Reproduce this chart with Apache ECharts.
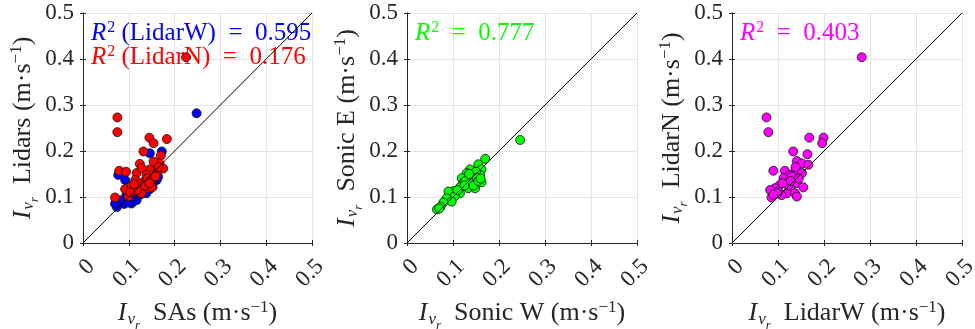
<!DOCTYPE html>
<html>
<head>
<meta charset="utf-8">
<script src="https://cdn.jsdelivr.net/npm/echarts@6/dist/echarts.min.js"></script>
<style>html,body{margin:0;padding:0;background:#fff}#c{width:975px;height:329px}</style>
</head>
<body>
<div id="c"></div>
<script>
// ---- data ----
const tickValues = [0, 0.1, 0.2, 0.3, 0.4, 0.5];
const diagonal = [[0, 0], [0.5, 0.5]];

// Panel 1: x = SAs, y = LidarW (blue) / LidarN (red)
const lidarW_vs_SAs = [
  [0.248,0.282],[0.146,0.195],[0.172,0.199],[0.077,0.148],[0.092,0.137],[0.072,0.090],[0.074,0.078],
  [0.106,0.086],[0.084,0.093],[0.161,0.137],[0.164,0.144],[0.117,0.093],[0.099,0.112],[0.146,0.117],
  [0.070,0.085],[0.110,0.100],[0.125,0.105],[0.135,0.115],[0.140,0.125],[0.150,0.130],[0.155,0.140],
  [0.130,0.120],[0.120,0.110],[0.145,0.150],[0.158,0.160],[0.105,0.095],[0.095,0.105],[0.115,0.120],
  [0.128,0.130],[0.138,0.108],[0.152,0.122],[0.160,0.155],[0.090,0.085],[0.100,0.088],[0.106,0.101]
];
const lidarN_vs_SAs = [
  [0.225,0.404],[0.075,0.273],[0.075,0.241],[0.145,0.229],[0.183,0.226],[0.154,0.217],[0.132,0.199],
  [0.170,0.190],[0.167,0.173],[0.124,0.172],[0.146,0.160],[0.175,0.162],[0.079,0.157],[0.094,0.155],
  [0.117,0.152],[0.139,0.148],[0.161,0.152],[0.114,0.137],[0.132,0.133],[0.150,0.137],[0.092,0.117],
  [0.106,0.124],[0.121,0.121],[0.139,0.119],[0.150,0.121],[0.110,0.112],[0.128,0.108],[0.099,0.101],
  [0.070,0.099],[0.128,0.163],[0.154,0.177],[0.125,0.128],[0.140,0.140],[0.118,0.115],[0.135,0.125],
  [0.145,0.130],[0.103,0.110],[0.112,0.128],[0.158,0.145],[0.165,0.165]
];
// Panel 2: x = Sonic W, y = Sonic E
const sonicE_vs_sonicW = [
  [0.246,0.224],[0.170,0.183],[0.155,0.171],[0.162,0.160],[0.137,0.160],[0.130,0.152],[0.144,0.148],
  [0.159,0.148],[0.119,0.141],[0.133,0.137],[0.148,0.137],[0.162,0.132],[0.122,0.130],[0.141,0.126],
  [0.115,0.121],[0.133,0.119],[0.148,0.119],[0.101,0.113],[0.090,0.112],[0.115,0.108],[0.104,0.102],
  [0.086,0.097],[0.097,0.090],[0.079,0.088],[0.073,0.079],[0.065,0.073],[0.140,0.145],[0.150,0.155],
  [0.127,0.135],[0.138,0.130],[0.152,0.142],[0.125,0.125],[0.110,0.115],[0.145,0.125],[0.135,0.150],
  [0.155,0.135],[0.070,0.075],[0.160,0.140]
];
// Panel 3: x = LidarW, y = LidarN
const lidarN_vs_lidarW = [
  [0.282,0.404],[0.075,0.273],[0.079,0.241],[0.168,0.229],[0.199,0.229],[0.196,0.217],[0.133,0.199],
  [0.164,0.193],[0.141,0.178],[0.152,0.173],[0.166,0.170],[0.090,0.157],[0.115,0.157],[0.139,0.159],
  [0.126,0.148],[0.152,0.152],[0.112,0.141],[0.133,0.137],[0.119,0.130],[0.141,0.130],[0.104,0.126],
  [0.155,0.121],[0.093,0.119],[0.126,0.119],[0.083,0.115],[0.101,0.112],[0.119,0.108],[0.137,0.108],
  [0.141,0.101],[0.086,0.099],[0.108,0.104],[0.130,0.145],[0.122,0.125],[0.110,0.130],[0.145,0.140],
  [0.098,0.108],[0.090,0.105],[0.138,0.165],[0.128,0.135]
];

const xNames = ['SAs', 'Sonic W', 'LidarW'];
const yNames = ['Lidars', 'Sonic E', 'LidarN'];
const r2Labels = [
  [{name: 'LidarW', value: '0.595', color: '#0000ff'}, {name: 'LidarN', value: '0.176', color: '#ff0000'}],
  [{name: null, value: '0.777', color: '#00ff00'}],
  [{name: null, value: '0.403', color: '#ff00ff'}]
];

// ---- chart ----
const FONT = 'Liberation Serif';
const TXT = '#262626';
const grids = [
  {left: 83, top: 13, width: 229, height: 230},
  {left: 407, top: 13, width: 230, height: 230},
  {left: 732, top: 13, width: 230, height: 230}
];
const NF = 26;
const nameRich = {
  i: {fontFamily: FONT, fontStyle: 'italic', fontSize: NF, color: TXT, lineHeight: 30, verticalAlign: 'middle'},
  s: {fontFamily: FONT, fontStyle: 'italic', fontSize: 17, color: TXT, lineHeight: 30, verticalAlign: 'bottom', padding: [0, 0, 1, 1]},
  ss: {fontFamily: FONT, fontStyle: 'italic', fontSize: 13, color: TXT, lineHeight: 30, verticalAlign: 'bottom', padding: [0, 0, -3, 0]},
  t: {fontFamily: FONT, fontSize: NF, color: TXT, lineHeight: 30, verticalAlign: 'middle'},
  p: {fontFamily: FONT, fontSize: 17, color: TXT, lineHeight: 30, verticalAlign: 'top', padding: [0, 0, 0, 0]}
};
function axisName(label) {
  return '{i|I}{s|v}{ss|r}{t|  ' + label + ' (m·s}{p|−1}{t|)}';
}
const common = {min: 0, max: 0.5, interval: 0.1, type: 'value'};
const lineC = {show: true, lineStyle: {color: TXT, width: 1}};
const tickC = {show: true, inside: true, length: 3, lineStyle: {color: TXT, width: 1}};

const xAxis = [], yAxis = [], series = [], title = [];
grids.forEach((g, k) => {
  xAxis.push(Object.assign({}, common, {
    gridIndex: k, position: 'bottom',
    axisLine: lineC, axisTick: tickC,
    splitLine: {show: true, lineStyle: {color: '#e4e4e4', width: 1}},
    axisLabel: {rotate: 45, align: 'right', verticalAlign: 'top', margin: 12,
      fontFamily: FONT, fontSize: 23, color: TXT,
      formatter: v => tickValues.includes(+v.toFixed(1)) ? String(+v.toFixed(1)) : ''},
    name: axisName(xNames[k]), nameLocation: 'middle', nameGap: 50,
    nameTextStyle: {rich: nameRich}
  }));
  xAxis.push(Object.assign({}, common, {
    gridIndex: k, position: 'top',
    axisLine: lineC, axisTick: tickC, axisLabel: {show: false}, splitLine: {show: false}
  }));
  yAxis.push(Object.assign({}, common, {
    gridIndex: k, position: 'left',
    axisLine: lineC, axisTick: tickC,
    splitLine: {show: true, lineStyle: {color: '#e4e4e4', width: 1}},
    axisLabel: {margin: 9, fontFamily: FONT, fontSize: 23, color: TXT},
    name: axisName(yNames[k]), nameLocation: 'middle', nameGap: 44, nameRotate: 90,
    nameTextStyle: {rich: nameRich}
  }));
  yAxis.push(Object.assign({}, common, {
    gridIndex: k, position: 'right',
    axisLine: lineC, axisTick: tickC, axisLabel: {show: false}, splitLine: {show: false}
  }));
});

const scatterStyle = (color) => ({
  type: 'scatter', symbol: 'circle', symbolSize: 9,
  itemStyle: {color: color, borderColor: '#111', borderWidth: 0.8, opacity: 1},
  emphasis: {disabled: true}
});
series.push(Object.assign(scatterStyle('#0000ff'), {xAxisIndex: 0, yAxisIndex: 0, data: lidarW_vs_SAs}));
series.push(Object.assign(scatterStyle('#ff0000'), {xAxisIndex: 0, yAxisIndex: 0, data: lidarN_vs_SAs}));
series.push(Object.assign(scatterStyle('#00ff00'), {xAxisIndex: 2, yAxisIndex: 2, data: sonicE_vs_sonicW}));
series.push(Object.assign(scatterStyle('#ff00ff'), {xAxisIndex: 4, yAxisIndex: 4, data: lidarN_vs_lidarW}));
[0, 2, 4].forEach(i => series.push({
  type: 'line', xAxisIndex: i, yAxisIndex: i, data: diagonal, symbol: 'none', silent: true, z: 5,
  lineStyle: {color: '#000', width: 1}
}));

const RF = 25;
r2Labels.forEach((arr, k) => {
  arr.forEach((lab, j) => {
    const rich = {
      r: {fontFamily: FONT, fontStyle: 'italic', fontWeight: 'normal', fontSize: RF, color: lab.color, lineHeight: 26, verticalAlign: 'middle'},
      p: {fontFamily: FONT, fontWeight: 'normal', fontSize: 16, color: lab.color, lineHeight: 26, verticalAlign: 'top', padding: [0, 0, 0, 1]},
      t: {fontFamily: FONT, fontWeight: 'normal', fontSize: RF, color: lab.color, lineHeight: 26, verticalAlign: 'middle'}
    };
    const body = lab.name ? ' (' + lab.name + ')  =  ' + lab.value : '  =  ' + lab.value;
    title.push({
      text: '{r|R}{p|2}{t|' + body + '}',
      left: grids[k].left + 8, top: 20 + j * 24, padding: 0, z: 1,
      textStyle: {fontWeight: 'normal', rich: rich}
    });
  });
});

const chart = echarts.init(document.getElementById('c'), null, {renderer: 'canvas'});
chart.setOption({
  animation: false,
  backgroundColor: '#fff',
  title: title,
  grid: grids.map(g => Object.assign({containLabel: false, outerBoundsMode: 'none'}, g)),
  xAxis: xAxis, yAxis: yAxis, series: series
});
</script>
</body>
</html>
